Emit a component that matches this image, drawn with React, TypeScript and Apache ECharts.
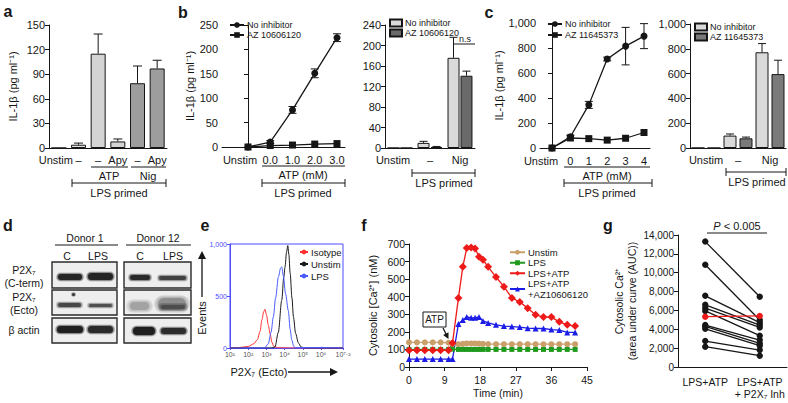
import React, { useEffect, useRef } from 'react';
import * as echarts from 'echarts';

const FONT = '"Liberation Sans", Arial, Helvetica, sans-serif';
const INK = '#161616';

// ---------- panel a ----------
const aCategories = ['Unstim', '–', '–', 'Apy', '–', 'Apy'];
const aMeans = [0, 4, 115, 8, 79, 97];
const aUpper = [0, 6, 139, 11, 100, 107];
const aColors = ['#e4e4e4', '#e4e4e4', '#d4d4d4', '#d4d4d4', '#9d9d9d', '#9d9d9d'];

// ---------- panel b ----------
const bDoseLabels = ['Unstim', '0.0', '1.0', '2.0', '3.0'];
const bNoInhibitor = [0, 10, 76, 151, 224];
const bNoInhibitorErr = [0, 3, 7, 9, 8];
const bAz = [0, 3, 4, 6, 7];
const bBarCategories = ['Unstim', '–', 'Nig'];
const bBarNoInhibitor = [0, 10, 176];
const bBarNoInhibitorUpper = [0, 13, 216];
const bBarAz = [0, 2, 141];
const bBarAzUpper = [0, 3, 150];

// ---------- panel c ----------
const cDoseLabels = ['Unstim', '0', '1', '2', '3', '4'];
const cNoInhibitor = [0, 90, 345, 712, 815, 895];
const cNoInhibitorErr = [0, 12, 28, 15, 150, 100];
const cAz = [0, 80, 75, 63, 78, 124];
const cBarCategories = ['Unstim', '–', 'Nig'];
const cBarNoInhibitor = [0, 100, 772];
const cBarNoInhibitorUpper = [0, 113, 842];
const cBarAz = [0, 78, 596];
const cBarAzUpper = [0, 88, 708];

// ---------- panel e (log10 intensity, events) ----------
const eTickValues = [1, 2, 3, 4, 5, 6, 7.2];
const eTickSup = ['¹', '²', '³', '⁴', '⁵', '⁶', '⁷·²'];
const eIsotype = [[1, 0], [1.5, 4], [2, 15], [2.3, 40], [2.5, 80], [2.65, 160], [2.75, 270], [2.85, 350], [2.92, 372], [3.0, 320], [3.1, 220], [3.2, 140], [3.3, 55], [3.4, 15], [3.6, 3], [4.2, 0], [7.2, 0]];
const eUnstim = [[1, 0], [3.3, 0], [3.47, 10], [3.65, 150], [3.84, 460], [3.95, 680], [4.02, 780], [4.1, 920], [4.17, 985], [4.23, 900], [4.3, 720], [4.4, 480], [4.48, 300], [4.6, 140], [4.75, 50], [4.9, 10], [5.1, 0], [7.2, 0]];
const eLps = [[1, 0], [2.9, 0], [3.1, 40], [3.25, 150], [3.38, 300], [3.5, 480], [3.66, 685], [3.78, 770], [3.84, 780], [3.93, 690], [4.05, 520], [4.2, 360], [4.3, 180], [4.39, 77], [4.5, 15], [4.6, 3], [5, 5], [5.5, 2], [6, 6], [6.5, 3], [7.2, 0]];

// ---------- panel f ----------
const fTime = [0, 2, 4, 6, 8, 10, 11, 12.5, 13.6, 14.6, 15.7, 16.7, 17.7, 18.7, 20, 22, 24, 26, 28, 30, 32, 34, 36, 38, 40, 42];
const fUnstim = [140, 140, 140, 140, 140, 138, 132, 130, 132, 134, 134, 134, 133, 132, 131, 130, 130, 130, 130, 130, 130, 130, 130, 130, 130, 130];
const fLps = [100, 100, 100, 100, 100, 100, 102, 100, 100, 100, 100, 100, 100, 100, 100, 100, 100, 100, 100, 100, 100, 100, 100, 100, 100, 100];
const fLpsAtp = [95, 95, 95, 95, 95, 95, 137, 393, 570, 677, 680, 675, 627, 610, 570, 512, 457, 393, 370, 335, 297, 284, 284, 257, 240, 233];
const fLpsAtpAz = [45, 45, 45, 45, 45, 45, 45, 245, 267, 285, 280, 280, 285, 262, 251, 240, 233, 230, 227, 221, 219, 219, 213, 210, 197, 197];

// ---------- panel g ----------
const gCategories = ['LPS+ATP', 'LPS+ATP\n+ P2X₇ Inh'];
const gBefore = [13300, 10850, 7550, 6600, 6250, 5950, 4450, 4300, 4050, 2750, 2150];
const gAfter = [7450, 4980, 4700, 4450, 4200, 3320, 2860, 2500, 2260, 1800, 1200];
const gRedBefore = 5340;
const gRedAfter = 5420;

const strip = (n: string) => n.slice(n.indexOf(':') + 1);
const thousands = (v: number) => String(v).replace(/\B(?=(\d{3})+(?!\d))/g, ',');

function errorBars(xi: number, yi: number, data: number[][], offset: number, cap: number, both: boolean) {
  return {
    type: 'custom',
    xAxisIndex: xi,
    yAxisIndex: yi,
    z: 5,
    silent: true,
    encode: { x: 0, y: [1, 2, 3] },
    data,
    renderItem: (_p: any, api: any) => {
      const x = api.value(0);
      const m = api.coord([x, api.value(1)]);
      const lo = api.coord([x, api.value(2)]);
      const hi = api.coord([x, api.value(3)]);
      const cx = m[0] + offset;
      const c = cap / 2;
      const st = { stroke: INK, lineWidth: 1 };
      const children: any[] = [
        { type: 'line', shape: { x1: cx, y1: both ? lo[1] : m[1], x2: cx, y2: hi[1] }, style: st },
        { type: 'line', shape: { x1: cx - c, y1: hi[1], x2: cx + c, y2: hi[1] }, style: st },
      ];
      if (both) children.push({ type: 'line', shape: { x1: cx - c, y1: lo[1], x2: cx + c, y2: lo[1] }, style: st });
      return { type: 'group', children };
    },
  };
}

const txt = (x: number, y: number, text: string, size = 11, opts: any = {}) => ({
  type: 'text',
  x,
  y,
  rotation: opts.rotation || 0,
  silent: true,
  style: {
    text,
    fill: opts.color || INK,
    font: `${opts.style || 'normal'} ${opts.weight || 'normal'} ${size}px ${FONT}`,
    textAlign: opts.align || 'center',
    align: opts.align || 'center',
    textVerticalAlign: 'middle',
    verticalAlign: 'middle',
    rich: opts.rich,
  },
});
const ln = (x1: number, y1: number, x2: number, y2: number, w = 1, color = INK) => ({
  type: 'line',
  silent: true,
  shape: { x1, y1, x2, y2 },
  style: { stroke: color, lineWidth: w },
});
const bracket = (x1: number, x2: number, y: number) => [ln(x1, y, x2, y), ln(x1, y - 4, x1, y + 4), ln(x2, y - 4, x2, y + 4)];
const box = (x: number, y: number, w: number, h: number) => ({
  type: 'rect',
  silent: true,
  shape: { x, y, width: w, height: h },
  style: { fill: '#eeeeee', stroke: '#2a2a2a', lineWidth: 1.4 },
});
// soft (blurred-looking) band: a few stacked rounded rects of falling opacity
const band = (x: number, y: number, w: number, h: number, color: string, spread = 2) => {
  const layers: any[] = [];
  const steps = 3;
  for (let k = steps; k >= 0; k--) {
    const s = (spread * k) / steps;
    layers.push({
      type: 'rect',
      silent: true,
      shape: { x: x - s, y: y - s * 0.7, width: w + 2 * s, height: h + 1.4 * s, r: (h + 1.4 * s) / 2 },
      style: { fill: color, opacity: k === 0 ? 0.9 : 0.22 },
    });
  }
  return layers;
};
const arrowHead = (tx: number, ty: number, dx: number, dy: number, len = 6, half = 3) => {
  const n = Math.hypot(dx, dy);
  const ux = dx / n, uy = dy / n;
  const bx = tx - ux * len, by = ty - uy * len;
  return {
    type: 'polygon',
    silent: true,
    shape: { points: [[tx, ty], [bx - uy * half, by + ux * half], [bx + uy * half, by - ux * half]] },
    style: { fill: INK },
  };
};

const yAxisBase = (gi: number, min: number, max: number, interval: number, extra: any = {}) => ({
  type: 'value',
  gridIndex: gi,
  min,
  max,
  interval,
  axisLine: { show: true, lineStyle: { color: INK, width: 1 } },
  axisTick: { show: true, length: 4, lineStyle: { color: INK } },
  axisLabel: { fontSize: 11, color: INK, margin: 4 },
  splitLine: { show: false },
  nameTextStyle: { fontSize: 11, color: INK },
  ...extra,
});
const xLine = { show: true, lineStyle: { color: INK, width: 1 } };

const legendBase = (left: number, top: number, data: string[], extra: any = {}) => ({
  left,
  top,
  orient: 'vertical',
  padding: 0,
  itemWidth: 14,
  itemHeight: 7,
  itemGap: 0,
  data,
  formatter: strip,
  selectedMode: false,
  textStyle: { fontSize: 9, color: INK, lineHeight: 10, padding: [0, 0, 0, -2] },
  ...extra,
});

function buildOption(): any {
  const bX = bDoseLabels.map((_, i) => i);
  const cX = cDoseLabels.map((_, i) => i);
  const barStyle = (c: string) => ({ color: c, borderColor: INK, borderWidth: 1 });

  const graphic: any[] = [
    // panel letters
    txt(8, 11, 'a', 16, { weight: 'bold' }),
    txt(183, 12, 'b', 16, { weight: 'bold' }),
    txt(489, 12, 'c', 16, { weight: 'bold' }),
    txt(8, 225, 'd', 16, { weight: 'bold' }),
    txt(205, 225, 'e', 16, { weight: 'bold' }),
    txt(364, 225, 'f', 16, { weight: 'bold' }),
    txt(608, 225, 'g', 16, { weight: 'bold' }),
    // panel a annotations
    ln(91, 167, 128, 167),
    txt(109, 176, 'ATP'),
    ln(131, 167, 166, 167),
    txt(148, 176, 'Nig'),
    ...bracket(72, 166, 183),
    txt(119, 193, 'LPS primed'),
    // panel b
    ln(262, 166, 345, 166),
    txt(303, 175, 'ATP (mM)'),
    ...bracket(262, 345, 183),
    txt(303, 193, 'LPS primed'),
    ...bracket(412, 475, 173),
    txt(444, 183, 'LPS primed'),
    txt(465, 39, 'n.s', 9),
    ln(453, 44, 475, 44),
    // panel c
    ln(564, 167, 650, 167),
    txt(607, 176, 'ATP (mM)'),
    ...bracket(564, 652, 183),
    txt(607, 193, 'LPS primed'),
    ...bracket(726, 786, 172),
    txt(757, 182, 'LPS primed'),
    // panel d (western blot)
    txt(85, 238, 'Donor 1', 10.5),
    ln(55, 245, 118, 245),
    txt(158, 238, 'Donor 12', 10.5),
    ln(126, 245, 191, 245),
    txt(67, 256, 'C', 10.5),
    txt(98, 256, 'LPS', 10.5),
    txt(140, 256, 'C', 10.5),
    txt(173, 256, 'LPS', 10.5),
    txt(24, 270, 'P2X₇', 10.5),
    txt(24, 283, '(C-term)', 10.5),
    txt(24, 297, 'P2X₇', 10.5),
    txt(24, 310, '(Ecto)', 10.5),
    txt(24, 330, 'β actin', 10.5),
    box(52, 262, 65, 26),
    box(52, 290, 65, 25),
    box(52, 318, 65, 25),
    box(124, 262, 67, 26),
    box(124, 290, 67, 25),
    box(124, 318, 67, 25),
    ...band(58, 274, 24, 6, '#1c1c1c'),
    ...band(88, 273, 25, 7, '#1c1c1c'),
    ...band(58, 303, 23, 4, '#3e3e3e'),
    ...band(89, 304, 23, 3, '#484848'),
    ...band(72, 293, 3, 3, '#333333', 1),
    ...band(57, 326, 26, 7, '#151515'),
    ...band(88, 326, 25, 7, '#202020'),
    ...band(130, 275, 20, 5, '#202020'),
    ...band(159, 276, 27, 4, '#3a3a3a'),
    ...band(130, 302, 19, 8, '#a0a0a0', 4),
    ...band(158, 298, 28, 12, '#8a8a8a', 4),
    ...band(161, 305, 24, 4, '#4a4a4a', 3),
    ...band(133, 327, 22, 8, '#151515'),
    ...band(161, 328, 25, 6, '#222222'),
    // panel e
    ln(202, 297, 202, 258, 1.3),
    arrowHead(202, 251, 0, -1, 8, 4),
    txt(202, 318, 'Events', 11, { rotation: Math.PI / 2 }),
    txt(259, 372, 'P2X₇ (Ecto)', 11),
    ln(288, 372, 330, 372, 1.3),
    arrowHead(338, 372, 1, 0, 8, 4),
    // panel f
    { type: 'rect', silent: true, shape: { x: 423, y: 312, width: 23, height: 15 }, style: { fill: '#fff', stroke: INK, lineWidth: 1 } },
    txt(434.5, 319.5, 'ATP', 10),
    ln(443, 328, 446, 334, 1.2),
    arrowHead(448.5, 339, 5, 10, 6, 3),
    // panel g
    txt(737, 226, '{i|P} < 0.005', 11, { rich: { i: { fontStyle: 'italic', fontSize: 11, fontFamily: FONT } } }),
    ln(707, 233, 767, 233),
  ];

  return {
    animation: false,
    backgroundColor: '#ffffff',
    textStyle: { fontFamily: FONT, color: INK },
    grid: [
      { left: 49, top: 25, width: 118, height: 123 },
      { left: 222, top: 25, width: 123, height: 122 },
      { left: 385, top: 25, width: 90, height: 123 },
      { left: 540, top: 23, width: 110, height: 125 },
      { left: 690, top: 24, width: 96, height: 124 },
      { left: 230, top: 244, width: 113, height: 104, show: true, borderColor: '#4d4dff', borderWidth: 1 },
      { left: 409, top: 244, width: 178, height: 123 },
      { left: 678, top: 235, width: 109, height: 132 },
    ],
    xAxis: [
      {
        type: 'category', gridIndex: 0, data: aCategories, axisLine: xLine, axisTick: { show: false },
        axisLabel: {
          interval: 0, fontSize: 11, color: INK, margin: 6,
          formatter: (v: string) => (v === 'Unstim' ? '{u|Unstim}' : v),
          rich: { u: { fontSize: 11, padding: [0, 6, 0, 0] } },
        },
      },
      {
        type: 'value', gridIndex: 1, min: -1.169, max: 4.36, axisLine: xLine, axisTick: { show: false }, splitLine: { show: false },
        axisLabel: {
          customValues: bX, fontSize: 11, color: INK, margin: 7,
          formatter: (v: number) => (Math.round(v) === 0 ? '{u|Unstim}' : bDoseLabels[Math.round(v)] || ''),
          rich: { u: { fontSize: 11, padding: [0, 16, 0, 0] } },
        },
      },
      {
        type: 'category', gridIndex: 2, data: bBarCategories, axisLine: xLine, axisTick: { show: false },
        axisLabel: {
          interval: 0, fontSize: 11, color: INK, margin: 6,
          formatter: (v: string) => (v === 'Unstim' ? '{u|Unstim}' : v),
          rich: { u: { fontSize: 11, padding: [0, 14, 0, 0] } },
        },
      },
      {
        type: 'value', gridIndex: 3, min: -0.652, max: 5.326, axisLine: xLine, axisTick: { show: false }, splitLine: { show: false },
        axisLabel: {
          customValues: cX, fontSize: 11, color: INK, margin: 7,
          formatter: (v: number) => (Math.round(v) === 0 ? '{u|Unstim}' : cDoseLabels[Math.round(v)] || ''),
          rich: { u: { fontSize: 11, padding: [0, 22, 0, 0] } },
        },
      },
      {
        type: 'category', gridIndex: 4, data: cBarCategories, axisLine: xLine, axisTick: { show: false },
        axisLabel: { interval: 0, fontSize: 11, color: INK, margin: 6 },
      },
      {
        type: 'value', gridIndex: 5, min: 1, max: 7.2, splitLine: { show: false },
        axisLine: { show: true, lineStyle: { color: '#4d4dff', width: 1 } },
        axisTick: { show: true, customValues: eTickValues, length: 2, lineStyle: { color: '#4d4dff' } },
        axisLabel: {
          customValues: eTickValues, fontSize: 7, color: '#555', margin: 3,
          formatter: (v: number) => {
            const i = eTickValues.findIndex((t) => Math.abs(t - v) < 1e-6);
            return i >= 0 ? '10' + eTickSup[i] : '';
          },
        },
      },
      {
        type: 'value', gridIndex: 6, min: 0, max: 45, interval: 9, axisLine: xLine, splitLine: { show: false },
        axisTick: { show: true, length: 4, lineStyle: { color: INK } },
        axisLabel: { fontSize: 10.5, color: INK, margin: 7 },
        name: 'Time (min)', nameLocation: 'middle', nameGap: 20, nameTextStyle: { fontSize: 10.5, color: INK },
      },
      {
        type: 'category', gridIndex: 7, data: gCategories, axisLine: xLine, axisTick: { show: false },
        axisLabel: { interval: 0, fontSize: 10.5, color: INK, margin: 9, lineHeight: 12 },
      },
    ],
    yAxis: [
      yAxisBase(0, 0, 150, 30, { name: 'IL-1β (pg ml⁻¹)', nameLocation: 'middle', nameGap: 31 }),
      yAxisBase(1, 0, 250, 50, { name: 'IL-1β (pg ml⁻¹)', nameLocation: 'middle', nameGap: 27 }),
      yAxisBase(2, 0, 240, 40),
      yAxisBase(3, 0, 1000, 200, {
        name: 'IL-1β (pg ml⁻¹)', nameLocation: 'middle', nameGap: 35,
        axisLabel: { fontSize: 11, color: INK, margin: 4, formatter: thousands },
      }),
      yAxisBase(4, 0, 1000, 200, { axisLabel: { fontSize: 11, color: INK, margin: 4, formatter: thousands } }),
      {
        type: 'value', gridIndex: 5, min: 0, max: 1000, interval: 500, splitLine: { show: false },
        axisLine: { show: true, lineStyle: { color: '#4d4dff', width: 1 } },
        axisTick: { show: true, length: 3, lineStyle: { color: '#4d4dff' } },
        axisLabel: { fontSize: 7, color: '#4d4dff', margin: 3, formatter: thousands },
      },
      yAxisBase(6, 0, 700, 100, {
        name: 'Cytosolic [Ca²⁺] (nM)', nameLocation: 'middle', nameGap: 31,
        axisLabel: { fontSize: 10.5, color: INK, margin: 4 },
      }),
      yAxisBase(7, 0, 14000, 2000, {
        name: 'Cytosolic Ca²⁺\n(area under curve (AUC))', nameLocation: 'middle', nameGap: 40,
        nameTextStyle: { fontSize: 10.5, color: INK, lineHeight: 13 },
        axisLabel: { fontSize: 10, color: INK, margin: 4, formatter: thousands },
      }),
    ],
    legend: [
      legendBase(229, 20, ['b:No inhibitor', 'b:AZ 10606120']),
      legendBase(389, 18, ['bb:No inhibitor', 'bb:AZ 10606120'], { icon: 'rect', itemWidth: 12, itemHeight: 7 }),
      legendBase(547, 19, ['c:No inhibitor', 'c:AZ 11645373'], { itemGap: 1 }),
      legendBase(694, 22, ['cc:No inhibitor', 'cc:AZ 11645373'], { icon: 'rect', itemWidth: 12, itemHeight: 7 }),
      legendBase(299, 247, ['e:Isotype', 'e:Unstim', 'e:LPS'], {
        itemWidth: 8, itemHeight: 6, itemGap: 2, lineStyle: { width: 2 },
        textStyle: { fontSize: 9.5, color: INK, lineHeight: 10, padding: [0, 0, 0, -2] },
      }),
      legendBase(509, 247, ['f:Unstim', 'f:LPS', 'f:LPS+ATP', 'f:LPS+ATP\n+AZ10606120'], {
        itemWidth: 15, itemHeight: 6,
        textStyle: { fontSize: 9.5, color: INK, lineHeight: 10.5, padding: [0, 0, 0, -2] },
      }),
    ],
    series: [
      // a
      {
        type: 'bar', xAxisIndex: 0, yAxisIndex: 0, barWidth: 15,
        data: aMeans.map((v, i) => ({ value: v, itemStyle: barStyle(aColors[i]) })),
      },
      errorBars(0, 0, aMeans.map((m, i) => [i, m, m, aUpper[i]]).filter((d) => d[3] > 0), 0, 9, false),
      // b left
      {
        type: 'line', name: 'b:No inhibitor', xAxisIndex: 1, yAxisIndex: 1,
        data: bX.map((x, i) => [x, bNoInhibitor[i]]), symbol: 'circle', symbolSize: 7,
        itemStyle: { color: INK }, lineStyle: { color: INK, width: 1.3 },
      },
      {
        type: 'line', name: 'b:AZ 10606120', xAxisIndex: 1, yAxisIndex: 1,
        data: bX.map((x, i) => [x, bAz[i]]), symbol: 'rect', symbolSize: 7,
        itemStyle: { color: INK }, lineStyle: { color: INK, width: 1.3 },
      },
      errorBars(1, 1, bX.map((x, i) => [x, bNoInhibitor[i], bNoInhibitor[i] - bNoInhibitorErr[i], bNoInhibitor[i] + bNoInhibitorErr[i]]).filter((d) => d[3] > d[1]), 0, 8, true),
      // b right
      {
        type: 'bar', name: 'bb:No inhibitor', xAxisIndex: 2, yAxisIndex: 2, barWidth: 12, barGap: '8%',
        data: bBarNoInhibitor, itemStyle: barStyle('#dadada'),
      },
      {
        type: 'bar', name: 'bb:AZ 10606120', xAxisIndex: 2, yAxisIndex: 2, barWidth: 12, barGap: '8%',
        data: bBarAz, itemStyle: barStyle('#6a6a6a'),
      },
      errorBars(2, 2, bBarNoInhibitor.map((m, i) => [i, m, m, bBarNoInhibitorUpper[i]]).filter((d) => d[3] > 0), -6.5, 8, false),
      errorBars(2, 2, bBarAz.map((m, i) => [i, m, m, bBarAzUpper[i]]).filter((d) => d[3] > 0), 6.5, 8, false),
      // c left
      {
        type: 'line', name: 'c:No inhibitor', xAxisIndex: 3, yAxisIndex: 3,
        data: cX.map((x, i) => [x, cNoInhibitor[i]]), symbol: 'circle', symbolSize: 7,
        itemStyle: { color: INK }, lineStyle: { color: INK, width: 1.3 },
      },
      {
        type: 'line', name: 'c:AZ 11645373', xAxisIndex: 3, yAxisIndex: 3,
        data: cX.map((x, i) => [x, cAz[i]]), symbol: 'rect', symbolSize: 7,
        itemStyle: { color: INK }, lineStyle: { color: INK, width: 1.3 },
      },
      errorBars(3, 3, cX.map((x, i) => [x, cNoInhibitor[i], cNoInhibitor[i] - cNoInhibitorErr[i], cNoInhibitor[i] + cNoInhibitorErr[i]]).filter((d) => d[3] > d[1]), 0, 8, true),
      // c right
      {
        type: 'bar', name: 'cc:No inhibitor', xAxisIndex: 4, yAxisIndex: 4, barWidth: 13, barGap: '23%',
        data: cBarNoInhibitor, itemStyle: barStyle('#dadada'),
      },
      {
        type: 'bar', name: 'cc:AZ 11645373', xAxisIndex: 4, yAxisIndex: 4, barWidth: 13, barGap: '23%',
        data: cBarAz, itemStyle: barStyle('#7a7a7a'),
      },
      errorBars(4, 4, cBarNoInhibitor.map((m, i) => [i, m, m, cBarNoInhibitorUpper[i]]).filter((d) => d[3] > 0), -8, 8, false),
      errorBars(4, 4, cBarAz.map((m, i) => [i, m, m, cBarAzUpper[i]]).filter((d) => d[3] > 0), 8, 8, false),
      // e
      {
        type: 'line', name: 'e:Isotype', xAxisIndex: 5, yAxisIndex: 5, data: eIsotype, smooth: 0.3, smoothMonotone: 'x',
        showSymbol: false, symbol: 'none', itemStyle: { color: '#ff3030' }, lineStyle: { color: '#ff3030', width: 1 },
      },
      {
        type: 'line', name: 'e:Unstim', xAxisIndex: 5, yAxisIndex: 5, data: eUnstim, smooth: 0.3, smoothMonotone: 'x',
        showSymbol: false, symbol: 'none', itemStyle: { color: '#1a1a1a' }, lineStyle: { color: '#1a1a1a', width: 1 },
      },
      {
        type: 'line', name: 'e:LPS', xAxisIndex: 5, yAxisIndex: 5, data: eLps, smooth: 0.3, smoothMonotone: 'x',
        showSymbol: false, symbol: 'none', itemStyle: { color: '#4a5cff' }, lineStyle: { color: '#4a5cff', width: 1 },
      },
      // f
      {
        type: 'line', name: 'f:Unstim', xAxisIndex: 6, yAxisIndex: 6, data: fTime.map((t, i) => [t, fUnstim[i]]),
        symbol: 'circle', symbolSize: 6, itemStyle: { color: '#c9a06a' }, lineStyle: { color: '#c9a06a', width: 1.3 },
      },
      {
        type: 'line', name: 'f:LPS', xAxisIndex: 6, yAxisIndex: 6, data: fTime.map((t, i) => [t, fLps[i]]),
        symbol: 'rect', symbolSize: 5, itemStyle: { color: '#1f9a1f' }, lineStyle: { color: '#1f9a1f', width: 1.3 },
      },
      {
        type: 'line', name: 'f:LPS+ATP', xAxisIndex: 6, yAxisIndex: 6, data: fTime.map((t, i) => [t, fLpsAtp[i]]),
        symbol: 'diamond', symbolSize: 8, itemStyle: { color: '#ee1a1a' }, lineStyle: { color: '#ee1a1a', width: 1.3 },
      },
      {
        type: 'line', name: 'f:LPS+ATP\n+AZ10606120', xAxisIndex: 6, yAxisIndex: 6, data: fTime.map((t, i) => [t, fLpsAtpAz[i]]),
        symbol: 'triangle', symbolSize: 6, itemStyle: { color: '#1c1ce8' }, lineStyle: { color: '#1c1ce8', width: 1.3 },
      },
      // g
      {
        type: 'custom', xAxisIndex: 7, yAxisIndex: 7, z: 3, silent: true,
        encode: { x: 0, y: [1, 2] },
        data: [...gBefore.map((v, i) => [0, v, gAfter[i], 0]), [0, gRedBefore, gRedAfter, 1]],
        renderItem: (_p: any, api: any) => {
          const a = api.coord([0, api.value(1)]);
          const b = api.coord([1, api.value(2)]);
          const c = api.value(3) ? '#ee1a1a' : INK;
          return {
            type: 'group',
            children: [
              { type: 'line', shape: { x1: a[0], y1: a[1], x2: b[0], y2: b[1] }, style: { stroke: c, lineWidth: 1.3 } },
              { type: 'circle', shape: { cx: a[0], cy: a[1], r: 3.2 }, style: { fill: c } },
              { type: 'circle', shape: { cx: b[0], cy: b[1], r: 3.2 }, style: { fill: c } },
            ],
          };
        },
      },
    ],
    graphic,
  };
}

export default function App() {
  const ref = useRef<HTMLDivElement>(null);
  useEffect(() => {
    if (!ref.current) return;
    const chart = echarts.init(ref.current, null, { renderer: 'svg', width: 788, height: 403 });
    chart.setOption(buildOption());
    return () => chart.dispose();
  }, []);
  return (
    <div
      ref={ref}
      style={{ position: 'absolute', left: 0, top: 0, width: 788, height: 403, background: '#fff' }}
    />
  );
}
